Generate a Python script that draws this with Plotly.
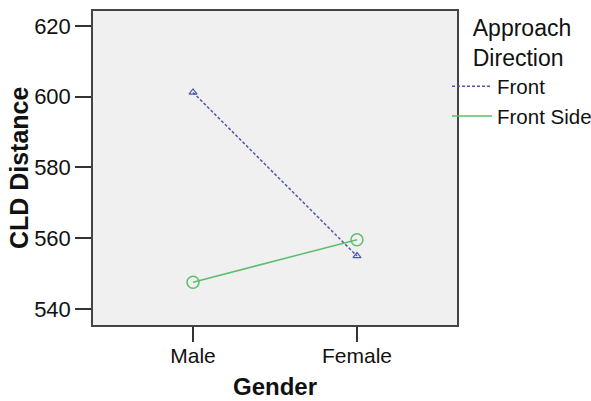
import plotly.graph_objects as go

genders = ["Male", "Female"]
front = [601.2, 555.0]
front_side = [547.6, 559.6]

FONT = "Liberation Sans, Arial, sans-serif"
blue = "#4B5AA8"
green = "#5DBE6B"

fig = go.Figure()
# legend-only line traces (SPSS legend shows lines only)
fig.add_trace(go.Scatter(x=genders, y=front, mode="lines", name="Front",
                         line=dict(color=blue, width=1.5, dash="3px,2px")))
fig.add_trace(go.Scatter(x=genders, y=front_side, mode="lines", name="Front Side",
                         line=dict(color=green, width=1.5)))
fig.add_trace(go.Scatter(x=genders, y=front, mode="markers", showlegend=False,
                         marker=dict(symbol="triangle-up-open", size=7,
                                     color=blue, line=dict(width=1.2))))
fig.add_trace(go.Scatter(x=genders, y=front_side, mode="markers", showlegend=False,
                         marker=dict(symbol="circle-open", size=12,
                                     color=green, line=dict(width=1.5))))

fig.update_layout(
    width=591, height=401,
    margin=dict(l=93, r=134, t=11, b=76, autoexpand=False),
    paper_bgcolor="white",
    plot_bgcolor="#F0F0F0",
    font=dict(family=FONT, color="#111111", size=20),
    showlegend=True,
    legend=dict(
        x=0.9725, xanchor="left", xref="paper",
        y=1.014, yanchor="top",
        bgcolor="rgba(0,0,0,0)",
        font=dict(size=20.5, family=FONT),
        title=dict(text="Approach<br>Direction", side="top center",
                   font=dict(size=23, family=FONT)),
        itemwidth=40,
        tracegroupgap=0,
    ),
    xaxis=dict(
        type="category",
        range=[-0.61, 1.61],
        showgrid=False,
        showline=True, mirror=True, linecolor="#444444", linewidth=1.5,
        ticks="outside", ticklen=15, tickwidth=1.5, tickcolor="#333333",
        tickfont=dict(size=21, family=FONT),
        ticklabelstandoff=-4,
        title=dict(text="<b>Gender</b>", font=dict(size=24, family=FONT), standoff=12),
    ),
    yaxis=dict(
        range=[535.5, 624.2],
        tickvals=[540, 560, 580, 600, 620],
        showgrid=False, zeroline=False,
        showline=True, mirror=True, linecolor="#444444", linewidth=1.5,
        ticks="outside", ticklen=16, tickwidth=1.5, tickcolor="#333333",
        tickfont=dict(size=22, family=FONT),
    ),
    annotations=[dict(
        text="<b>CLD Distance</b>", textangle=-90,
        xref="paper", yref="paper", x=-0.203, y=0.5,
        xanchor="center", yanchor="middle", showarrow=False,
        font=dict(size=25, family=FONT, color="#111111"),
    )],
)

fig.write_html("out.html",
               config={"displayModeBar": False},
               post_script="document.body.style.margin='0';document.body.style.overflow='hidden';")
